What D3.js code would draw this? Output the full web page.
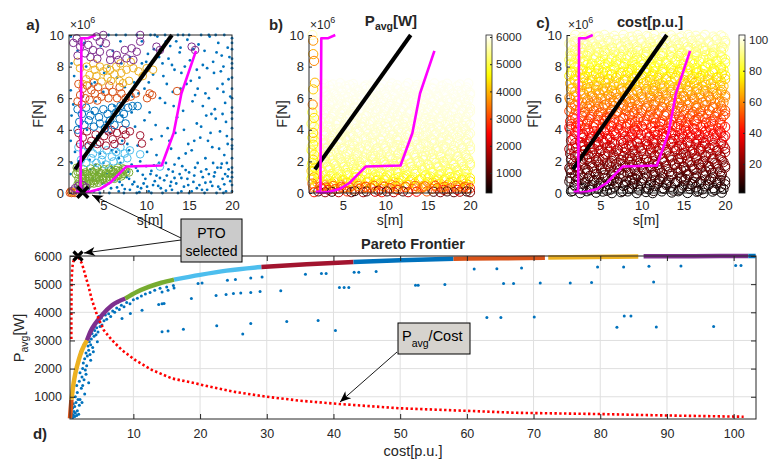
<!DOCTYPE html>
<html>
<head>
<meta charset="utf-8">
<script src="https://cdn.jsdelivr.net/npm/d3@7/dist/d3.min.js"></script>
<style>
body{margin:0;background:#fff;}
svg{display:block;}
</style>
</head>
<body>
<svg id="chart" width="771" height="459"></svg>
<script>
// ======================= DATA =======================
const sTicks = [5, 10, 15, 20];
const FTicks = [0, 2, 4, 6, 8, 10];
const cbPowerTicks = [1000, 2000, 3000, 4000, 5000, 6000];
const cbCostTicks = [20, 40, 60, 80, 100];
const costTicks = [10, 20, 30, 40, 50, 60, 70, 80, 90, 100];
const powerTicks = [1000, 2000, 3000, 4000, 5000, 6000];
const matlabColors = ["#0072BD", "#D95319", "#EDB120", "#7E2F8E", "#77AC30", "#4DBEEE", "#A2142F"];

// design-space lines (s [m], F [MN])
const blackLineS = [1.7, 13.0], blackLineF = [1.5, 10.0];
const magUpperS = [4.1, 3.2, 2.45, 2.35, 2.2], magUpperF = [10, 9.79, 9.79, 0.2, 0.08];
const magLowerS = [1.8, 2.5, 3.5, 4.6, 5.8, 6.8, 7.7, 11.8, 13.2, 14.1, 15.8];
const magLowerF = [0.1, 0.02, 0.1, 0.25, 0.65, 1.2, 1.68, 1.74, 3.8, 6.3, 9.0];
const ptoS = 2.6, ptoF = 0.05;

// panel a: all designs (blue dots) [s,F]
const aDots = [
[9.5,9.6],[10.2,8.8],[10.8,7.5],[11.3,9.9],[11.9,8.2],[12.4,6.9],[12.8,9.3],[13.3,7.8],[13.9,8.9],[14.3,5.2],[14.8,9.7],[15.2,7.1],[15.7,6.2],[16.1,9.4],[16.6,8.1],[17.0,4.9],[17.4,9.9],[17.9,7.6],[18.3,6.6],[18.8,8.7],[19.2,5.7],[19.5,9.2],[16.3,3.5],[17.7,2.9],[18.6,3.9],[19.1,2.4],[15.9,4.4],[14.9,3.1],[13.6,4.8],[12.2,5.7],[11.1,4.3],[10.4,5.1],[9.8,6.6],[10.6,3.4],[12.9,2.8],[13.8,2.2],[14.6,2.5],[16.9,2.2],[18.1,4.7],[19.4,3.6],[17.3,6.0],[18.9,6.9],[16.2,7.3],[15.1,8.4],[14.1,7.6],[13.1,6.4],[12.0,7.4],[11.6,6.0],[10.9,9.1],[12.6,8.5],[13.5,9.6],[14.5,8.0],[15.5,9.1],[16.8,9.0],[17.8,8.3],[18.4,9.5],[19.0,8.0],[19.6,7.2],[18.0,5.3],[16.6,5.5],[15.4,5.8],[14.0,6.6],[19.3,4.5],[17.5,3.8],[11.8,3.6],[10.1,2.6],[12.5,4.1],[13.2,5.5],[14.4,4.0],[15.6,3.3],[18.5,2.8],[16.0,6.6],[17.1,7.9],[18.7,7.7],[19.8,6.1],[19.7,8.6],
[10.3,7.0],[11.5,8.6],[13.0,8.1],[14.7,6.9],[16.9,6.3],[18.2,8.9],[19.0,6.4],[17.6,5.0],[16.4,4.2],[12.7,3.3],[11.2,2.4],[15.3,2.7],[17.2,3.3],[18.9,5.0],[14.0,9.2],[10.0,8.3],[12.3,9.6],[15.9,7.8],[13.4,3.8],[19.5,3.1],
[15.0,10],[12.2,10],[16.4,10],[18.1,10],[19.1,10],[13.7,10],[10.5,10],[17.3,10],[14.3,10],[11.0,10],[8.9,10],[6.5,10],[7.6,10],[5.6,10],
[20,9.8],[20,9.1],[20,8.5],[20,7.9],[20,7.3],[20,6.6],[20,6.0],[20,5.4],[20,4.7],[20,4.1],[20,3.4],[20,2.8],[20,2.2],[20,1.6],[20,1.0],[20,0.5],[20,0.1],[20,9.5],[20,8.2],[20,5.1],[20,3.0],[20,1.3],
[3.2,0.4],[3.8,0.9],[4.4,0.2],[4.9,0.6],[5.4,1.2],[5.9,0.3],[6.3,0.8],[6.8,0.1],[7.2,0.5],[7.7,1.0],[8.1,0.2],[8.6,0.7],[9.0,1.4],[9.4,0.3],[9.9,0.9],[10.3,0.1],[10.8,0.5],[11.2,1.1],[11.7,0.3],[12.1,0.8],[12.6,1.5],[13.0,0.2],[13.5,0.6],[13.9,1.2],[14.4,0.4],[14.8,0.9],[15.3,0.1],[15.7,1.6],[16.2,0.5],[16.6,1.0],[17.1,0.2],[17.5,0.7],[18.0,1.3],[18.4,0.4],[18.9,0.9],[19.3,0.1],[19.6,1.5],[3.5,1.5],[4.1,1.8],[5.0,1.9],[6.0,1.6],[7.0,1.9],[8.3,1.8],[9.3,2.0],[10.0,1.7],[10.6,1.4],[11.5,1.9],[12.3,1.9],[13.3,1.8],[14.2,1.7],[15.0,1.3],[16.0,1.9],[17.0,1.5],[17.8,1.9],[18.7,1.6],[19.4,1.9],
[4.6,0.0],[5.7,0.0],[7.4,0.0],[8.9,0.0],[10.6,0.0],[11.9,0.0],[13.7,0.0],[15.0,0.0],[16.8,0.0],[18.2,0.0],[19.0,0.0],[5.2,0.45],[6.6,0.35],[8.4,0.55],[9.7,0.6],[11.0,0.75],[12.8,0.45],[14.1,0.95],[15.5,0.7],[16.9,0.65],[18.6,0.25],[19.8,0.75],[7.9,1.35],[9.6,1.15],[12.4,1.1],[14.6,1.45],[16.4,1.35],[17.9,1.05],[19.2,1.2],[10.9,1.75],[13.1,1.35],[6.1,1.15],[4.3,1.3],[3.9,0.1],[8.8,1.6],[11.4,0.45],[15.9,0.3],[17.3,1.2],[18.8,1.85],
[5.6,0.6],[7.5,0.25],[8.0,0.9],[9.2,0.05],[10.1,0.4],[11.6,0.95],[12.3,0.15],[13.3,0.95],[14.1,0.1],[14.9,0.5],[15.6,1.1],[16.5,0.2],[17.7,0.45],[18.3,1.6],[19.1,0.55],[19.5,1.05],[12.9,0.7],[10.5,1.2],[9.0,0.4],[6.9,0.7],
[6.5,2.6],[7.2,3.3],[8.0,2.7],[8.7,4.2],[9.0,3.0],[8.3,5.1],[9.1,6.3],[8.6,7.0],[9.5,8.2],[9.8,4.6],
[1.2,9.9],[1.3,8.2],[1.2,6.5],[1.3,4.9],[1.2,3.3],[1.3,1.9],[1.2,1.2],[1.6,7.4],[1.5,5.6],[1.7,2.6],[2.0,9.0],[2.2,4.2],[2.6,6.1],[3.0,8.0],[3.4,2.1],[3.7,5.1],[4.0,7.0],[4.3,3.6],[4.7,9.3],[5.0,6.4],[5.3,4.5],[5.6,8.0],[6.0,2.7],[6.3,5.5],[6.6,7.3],[7.0,9.6],[7.2,4.9],[7.5,6.7],[7.8,3.1],[8.1,8.6],[8.4,6.1],[2.4,3.0],[3.1,4.0],[4.1,5.8],[5.1,7.6],[6.1,9.0],[7.1,8.2],[2.8,9.5],[3.6,6.9],[4.6,2.5],[5.8,3.8],[6.8,2.2],[1.9,0.4],[2.5,1.3],[2.9,0.7],[1.4,0.2],[3.3,0.3],[2.1,2.0]
];

// panel a: Pareto designs grouped by cluster [s,F]
const aCircPurple = [[1.9,9.79],[2.48,9.58],[3.25,9.37],[4.2,9.9],[4.6,9.58],[5.3,9.47],[3.8,9.05],[4.6,8.94],[2.86,8.84],[5.8,8.84],[6.56,8.73],[7.5,9.05],[8.3,9.16],[8.9,8.94],[7.7,8.52],[8.5,8.42],[9.3,10],[9.3,9.58],[11.2,9.26],[11.6,9.05],[15.3,9.26],[15.7,9.05],[5.0,10],[2.3,9.26],[5.8,8.42],[6.75,8.42],[1.5,9.5],[2.0,8.7],[3.5,8.6],[4.3,8.5]];
const aCircYellow = [[2.28,7.9],[3.06,8.0],[3.83,8.2],[4.6,8.0],[5.4,7.9],[3.4,7.47],[4.2,7.4],[5.0,7.7],[5.8,7.8],[6.5,8.0],[7.0,8.2],[6.3,7.5],[7.1,7.6],[7.7,7.8],[8.5,7.9],[9.1,7.7],[10.05,7.9],[4.8,7.05],[5.9,7.1],[6.9,7.1],[8.0,7.1],[2.6,6.9],[9.6,7.4],[10.8,7.8],[2.0,8.3],[3.0,7.2],[4.0,7.8],[8.2,8.3],[7.3,6.95],[5.5,7.3]];
const aCircOrange = [[2.1,6.9],[2.6,6.6],[3.1,6.8],[3.6,6.5],[2.3,6.2],[2.9,6.0],[3.4,5.9],[4.0,6.3],[4.4,6.7],[4.8,6.1],[5.2,6.4],[2.0,5.8],[4.3,5.85],[5.6,6.0],[6.1,6.4],[6.6,6.0],[7.1,6.3],[7.6,6.0],[8.2,6.1],[6.9,6.7],[5.7,6.8],[3.9,7.0],[10.1,6.0],[10.7,6.2],[10.4,6.3],[13.6,6.45],[8.8,6.3],[2.5,5.6]];
const aCircBlue = [[2.0,5.3],[2.5,5.0],[3.0,5.4],[3.5,4.9],[4.0,5.2],[4.5,4.8],[5.0,5.3],[5.5,5.0],[6.0,5.4],[6.5,5.1],[7.0,5.5],[2.2,4.5],[2.8,4.3],[3.3,4.6],[3.9,4.2],[4.6,4.4],[5.2,4.1],[5.8,4.6],[6.3,4.3],[6.9,4.7],[7.4,5.0],[7.9,5.4],[8.4,5.5],[9.0,5.5],[2.0,4.0],[7.6,4.4]];
const aCircDarkRed = [[2.1,3.8],[2.6,3.5],[3.1,3.9],[3.6,3.3],[4.1,3.7],[4.6,3.2],[5.1,3.6],[5.6,3.9],[6.1,3.4],[6.6,3.8],[7.1,3.3],[7.6,3.7],[8.1,3.9],[2.3,3.1],[3.3,3.0],[4.3,3.1],[5.3,3.0],[6.3,3.1],[9.3,3.65],[9.5,3.13],[7.3,4.0],[5.9,4.0]];
const aCircLightBlue = [[2.1,2.9],[2.7,2.6],[3.2,2.9],[3.8,2.5],[4.3,2.8],[4.9,2.4],[5.4,2.7],[6.0,2.3],[6.5,2.6],[7.0,2.9],[7.5,2.5],[2.4,2.1],[3.0,1.9],[3.6,2.2],[4.2,1.9],[4.8,2.1],[5.3,1.8],[6.2,2.0],[7.0,2.1],[7.8,2.2],[9.3,2.45],[11.6,1.67],[8.1,2.7]];
const aCircGreen = [[1.9,1.6],[2.3,1.3],[2.7,1.5],[3.1,1.2],[3.5,1.55],[3.9,1.3],[4.3,1.6],[4.7,1.25],[5.1,1.5],[5.5,1.2],[5.9,1.45],[6.3,1.3],[6.7,1.6],[7.1,1.35],[7.5,1.5],[2.1,0.9],[2.5,0.7],[2.9,0.95],[3.3,0.75],[3.7,1.0],[4.1,0.8],[4.5,1.0],[4.9,0.85],[5.3,0.95],[5.7,0.85],[6.1,1.0],[6.5,1.05],[6.9,1.15],[7.3,1.2],[2.3,0.5],[2.7,1.2],[3.1,0.55],[3.5,0.6],[1.8,1.2],[4.0,1.1],[5.0,1.05],[6.0,1.2],[8.0,1.3],
[2.0,1.35],[2.5,1.05],[2.9,1.3],[3.3,1.05],[3.7,1.35],[4.1,1.45],[4.5,1.3],[4.9,1.4],[5.3,1.25],[5.7,1.55],[6.1,1.35],[6.5,1.45],[6.9,1.4],[7.3,1.55],[7.7,1.35],[2.2,0.7],[2.6,0.9],[3.0,0.75],[3.4,0.9],[3.8,0.75],[4.2,0.95],[4.6,0.8],[5.0,0.9],[5.4,0.8],[5.8,1.0],[6.3,0.9],[6.7,1.1],[7.1,1.05],[2.0,0.55],[2.8,0.5],[3.9,0.6],[4.4,0.65]];
const aCircPurpleLow = [[1.7,0.3],[2.1,0.45],[1.5,0.15],[2.6,0.5],[2.3,0.2],[3.0,0.35]];
const aCircOrangeLow = [[1.1,0.02],[1.3,0.0],[1.5,0.05],[1.2,0.1],[1.7,0.0]];
const aCircYellowLow = [[1.4,0.08]];

// shared scatter row layouts for the dense clouds of panels b and c: [s, dF]
const cloudRows = [
 [[1.5,0.05],[2.6,-0.06],[3.4,0.07],[4.5,-0.02],[5.3,0.05],[6.4,-0.07],[7.5,0.01],[8.3,0.06],[9.4,-0.05],[10.5,0.02],[11.3,-0.07],[12.4,0.06],[13.6,-0.01],[14.4,0.07],[15.5,-0.04],[16.6,0.04],[17.4,-0.06],[18.5,0.05],[19.6,-0.02]],
 [[1.9,-0.04],[3.0,0.06],[4.0,-0.07],[4.9,0.04],[6.0,-0.01],[6.9,0.07],[8.0,-0.05],[8.9,0.02],[9.9,0.07],[11.0,-0.06],[11.9,0.04],[12.9,-0.02],[14.0,0.06],[15.0,-0.07],[16.0,0.01],[16.9,0.06],[18.0,-0.04],[19.0,0.07],[20.0,-0.01]],
 [[1.4,0.06],[2.3,-0.02],[3.5,0.04],[4.3,-0.06],[5.6,0.07],[6.6,-0.04],[7.3,0.05],[8.6,-0.07],[9.2,0.01],[10.2,0.06],[11.6,-0.05],[12.2,0.02],[13.3,-0.07],[14.7,0.05],[15.3,-0.01],[16.3,0.07],[17.7,-0.04],[18.3,0.04],[19.4,-0.06]],
 [[1.7,-0.06],[2.8,0.04],[3.8,-0.01],[4.7,0.07],[5.8,-0.05],[6.2,0.02],[7.7,-0.07],[8.5,0.06],[9.7,-0.02],[10.8,0.05],[11.4,-0.06],[12.7,0.07],[13.8,-0.04],[14.5,0.01],[15.8,0.06],[16.8,-0.07],[17.3,0.04],[18.8,-0.01],[19.8,0.06]],
 [[1.3,0.01],[2.1,0.07],[3.2,-0.05],[4.2,0.02],[5.1,-0.07],[6.3,0.06],[7.1,-0.02],[8.1,0.04],[9.1,-0.06],[10.0,0.07],[11.1,-0.01],[12.1,0.05],[13.0,-0.07],[14.2,0.02],[15.1,0.06],[16.2,-0.05],[17.1,0.01],[18.1,0.07],[19.2,-0.06],[20.0,0.04]],
 [[2.0,0.05],[2.9,-0.07],[3.7,0.02],[4.8,-0.04],[5.5,0.06],[6.7,-0.01],[7.8,0.07],[8.8,-0.06],[9.5,0.04],[10.6,-0.02],[11.5,0.06],[12.5,-0.07],[13.5,0.02],[14.8,-0.05],[15.6,0.07],[16.5,-0.01],[17.6,0.05],[18.6,-0.06],[19.5,0.01]]
];

// panel b: rows of designs coloured by P_avg [W]
const bRowF = [0.3,0.45,0.6,0.75,0.9,1.05,1.2,1.38,1.55,1.72,1.9,2.07,2.24,2.4,2.58,2.75,2.92,3.1,3.27,3.44,3.6,3.78,3.95,4.12,4.3,4.47,4.64,4.8,4.98,5.15,5.32,5.5,5.67,5.84,6.0,6.18,6.35,6.52,6.7,6.88];
const bRowP = [3400,3800,4100,4350,4550,4750,4900,5050,5150,5230,5300,5370,5430,5480,5530,5570,5610,5640,5670,5700,5725,5750,5770,5790,5810,5830,5845,5860,5875,5890,5900,5915,5925,5935,5945,5955,5965,5975,5980,5990];
const bRowLayout = [0,3,5,1,4,2,5,0,2,4,1,3,0,5,2,1,4,3,5,0,3,1,5,2,4,0,2,5,3,1,4,0,5,3,2,4,1,5,0,3];
const bBottom = [[1.6,0.05,2600],[2.1,0.1,900],[2.5,0.3,3000],[2.9,0.05,1500],[3.3,0.2,2400],[3.7,0.08,600],[4.1,0.25,3200],[4.5,0.05,1900],[5.0,0.3,3300],[5.5,0.1,2800],[6.0,0.05,1200],[6.4,0.12,500],[7.0,0.28,2900],[7.4,0.05,1700],[7.8,0.1,700],[8.3,0.3,3400],[8.8,0.08,2200],[9.2,0.15,1000],[9.6,0.05,2600],[10.2,0.1,600],[10.6,0.3,3100],[11.0,0.05,1800],[11.5,0.2,2700],[12.1,0.1,800],[12.7,0.05,2000],[13.2,0.25,3300],[13.7,0.08,2500],[14.3,0.3,3600],[14.9,0.1,3200],[15.7,0.08,900],[16.1,0.3,3000],[16.5,0.05,1400],[16.9,0.2,2600],[17.3,0.1,700],[17.7,0.3,3200],[18.1,0.05,1100],[18.5,0.2,2400],[18.8,0.08,1800],[19.2,0.3,3300],[19.6,0.1,600],[20.0,0.05,1300],[20.0,0.3,2800],
[2.3,0.4,3200],[3.0,0.35,2900],[3.9,0.45,3400],[4.8,0.4,3100],[5.8,0.35,3300],[6.8,0.45,3500],[7.7,0.4,3000],[8.7,0.45,3400],[9.9,0.4,3100],[11.2,0.45,3500],[12.4,0.4,3300],[13.5,0.45,3200],[14.7,0.42,3400],[15.9,0.45,3100],[17.0,0.4,3300],[18.3,0.45,3500],[19.4,0.4,3200]];
const bLeftColumn = [[1.4,0.6,3300],[1.6,1.0,3800],[1.3,1.4,4200],[1.7,1.6,4700],[1.5,2.1,4300],[1.3,2.7,4800],[1.7,3.3,5000],[1.4,3.5,4600],[1.6,4.2,4900],[1.3,4.4,5100],[1.4,5.1,4700],
[1.5,9.64,3700],[1.5,8.79,3900],[1.6,8.36,3600],[1.7,6.98,4000],[1.5,6.56,4200],[1.44,5.6,3500],[1.6,4.75,4300],[1.5,3.8,4100],[1.5,3.06,4400],[1.6,2.42,4500],[1.4,1.9,4600],[1.4,10.0,5700]];

// panel c: rows of designs coloured by cost [p.u.]
const cRowF = [0.05,0.2,0.38,0.55,0.72,0.88,1.05,1.22,1.4,1.57,1.74,1.9,2.08,2.25,2.42,2.6,2.77,2.94,3.1,3.28,3.45,3.62,3.8,3.97,4.14,4.3,4.48,4.65,4.82,5.0,5.17,5.34,5.5,5.68,5.85,6.02,6.2,6.37,6.54,6.7,6.88,7.05,7.22,7.4,7.57,7.74,7.9,8.08,8.25,8.42,8.6,8.77,8.94,9.1,9.28,9.45,9.62,9.8,9.95];
const cRowCost = [2,5,4,8,7,12,10,15,13,19,16,22,19,25,22,28,26,32,29,35,33,39,36,42,40,45,43,49,46,53,49,56,53,59,56,62,59,66,62,69,66,72,69,76,72,79,76,82,79,86,82,89,85,91,89,94,92,97,96];
const cRowLayout = [0,3,5,1,4,2,5,0,2,4,1,3,0,5,2,1,4,3,5,0,3,1,5,2,4,0,2,5,3,1,4,0,5,3,2,4,1,5,0,3,2,5,1,4,0,3,5,2,1,4,0,2,5,3,0,4,1,3,5];

// panel d: all designs [cost, P_avg]
const dDots = [
[0.7,300],[0.8,400],[0.9,260],[1.0,350],[1.1,480],[1.2,300],[1.3,420],[1.5,330],[1.6,500],[1.8,380],[0.9,600],[1.0,750],[1.2,650],[1.4,800],[1.9,700],[2.0,900],[1.3,1000],[1.6,1150],[2.2,1300],[1.5,1400],[1.9,1550],[2.3,1700],[2.0,1850],[2.6,1600],[2.4,2000],[2.8,1950],[2.5,2200],[3.0,2100],[2.7,2350],[3.1,2450],[2.9,2550],[3.3,2650],[3.5,2500],[3.2,2800],[3.6,2850],[3.4,2950],[3.9,2750],[3.7,3050],[4.1,3150],[3.8,3250],[4.4,3200],[4.2,3350],[4.7,3300],[4.5,3450],[5.0,3500],[4.9,3650],[5.3,3550],[5.6,3700],[5.2,3800],[6.0,3750],[5.8,3900],[6.3,3950],[6.6,3850],[6.9,4050],[7.2,4000],[7.5,4150],[7.9,4100],[8.2,4250],[8.6,4200],[9.0,4350],[9.5,4300],[10.0,4450],[10.6,4500],[11.2,4580],[11.8,4650],[12.5,4700],[13.2,4780],[14.0,4850],[15.0,4900],[16.0,4950],[3.3,1500],[2.7,1100],[2.3,800],
[2.1,2600],[2.6,2850],[3.0,3000],[3.4,3200],[3.9,3450],[4.3,3600],[4.8,3850],[5.4,3950],[6.1,4100],[6.8,4250],[7.6,4350],[8.4,4450],[9.2,4550],[2.9,1800],[3.6,2300],[4.0,2600],[4.6,2950],[1.7,900],[2.4,1400],
[11.3,4075],[9.55,3957],[8.3,3780],[14.3,3305],[15.2,3340],[17.5,3400],[13.8,4275],[14.3,4300],[14.6,4310],[18.7,4490],[14.3,4725],[15.2,4785],[16.1,4865],[19.7,5020],[20.3,5045],
[22.4,4595],[23.9,4630],[25,4665],[26.1,4690],[27.6,4700],[29,4740],[32.1,4770],[24.1,5140],[25.3,5165],[27.6,5220],[29.3,5255],[35.8,5350],[38.2,5375],[38.9,5375],[43.1,5420],[43.8,5420],[46.4,5445],[40.9,4880],[41.6,4880],[42.3,4880],[22.5,3520],[26.4,3225],[27.6,3600],[33,3670],[37.7,3710],[40.3,3355],[52.3,4960],[52.7,4960],[56.7,4985],[61.1,5540],[64.5,5550],[65.5,5020],[67,5020],[63,3815],[65.1,3815],[68.2,5575],[71,5045],[75.5,5045],[78.7,5055],[79.6,5610],[83.5,5610],[87.3,5635],[92.1,5645],[100.3,5660],[101.1,5660],[88,5080],[70.1,3835],[82.5,3470],[83.6,3870],[84.6,3870],[88.4,3480],[97,3500]
];
// Pareto frontier, coloured by cluster
const segCost = [[0.5,0.6,0.72],[0.72,0.9,1.05,1.3,1.8,2.3,3.06],[3.06,3.6,4.3,5.3,6.8,8.8],[8.8,10.5,12.3,14.2,16.1],[16.1,20,24,29.2],[29.2,36,43],[43,50,58],[58,65,71.7],[72.2,79,85.7],[86.5,94,102.2],[102.2,103.3]];
const segPower = [[230,550,900],[900,1250,1500,1830,2300,2655,3010],[3010,3330,3600,3900,4250,4490],[4490,4720,4900,5050,5160],[5160,5330,5480,5610],[5610,5710,5785],[5785,5850,5905],[5905,5920,5935],[5945,5965,5985],[5988,5995,6000],[6000,6000]];
const segColorIdx = [1,2,3,4,5,6,0,1,2,3,0];
// P_avg / cost curve (scaled)
const ratioCost = [0.7,0.7,0.72,0.75,0.85,1.0,1.2,1.7,1.9,2.3,2.8,3.3,3.8,4.56,5.56,6.8,8.3,10.3,12.8,15.8,19.3,21.5,25,30,35,41,50,60,67.5,80,90,101.5];
const ratioPower = [3050,3800,4600,5200,5600,5800,5920,6000,5900,5730,5315,4900,4430,3900,3365,3010,2655,2300,1950,1650,1475,1355,1180,1000,860,740,590,500,430,385,335,290];
const ptoCost = 1.7, ptoPower = 6000;

// ======================= DRAWING =======================
const FONT = "'Liberation Sans', Arial, Helvetica, sans-serif";
const TXT = "#262626";
const fmt = d3.format("d");
const svg = d3.select("#chart");
const defs = svg.append("defs");

function hot(t){
  t = Math.max(0, Math.min(1, t));
  const r = Math.min(1, t/0.375), g = Math.max(0, Math.min(1, (t-0.375)/0.375)), b = Math.max(0, Math.min(1, (t-0.75)/0.25));
  return d3.rgb(r*255, g*255, b*255).toString();
}
function styleAxis(sel, fs){
  sel.attr("font-family", FONT).attr("font-size", fs);
  sel.selectAll("text").attr("fill", TXT);
  sel.selectAll("line").attr("stroke", TXT);
  sel.select(".domain").remove();
}
function text(x, y, str, opts={}){
  const t = svg.append("text").attr("x", x).attr("y", y).text(str)
    .attr("font-family", FONT).attr("font-size", opts.fs || 13).attr("fill", opts.fill || TXT)
    .attr("text-anchor", opts.anchor || "middle");
  if (opts.bold) t.attr("font-weight", "bold");
  return t;
}

// ---------- top panels ----------
const topY0 = 193, topY1 = 35;
function topPanel(x0, x1){
  return {
    x: d3.scaleLinear().domain([1, 20]).range([x0, x1]),
    y: d3.scaleLinear().domain([0, 10]).range([topY0, topY1]),
    x0, x1
  };
}
const A = topPanel(69, 232), B = topPanel(309, 470), C = topPanel(567, 725);

function drawLines(P){
  const line = d3.line().x(d => P.x(d[0])).y(d => P.y(d[1]));
  const g = svg.append("g");
  g.append("path").attr("d", line(blackLineS.map((s,i)=>[s, blackLineF[i]])))
    .attr("stroke", "#000").attr("stroke-width", 4).attr("fill", "none");
  g.append("path").attr("d", line(magUpperS.map((s,i)=>[s, magUpperF[i]])))
    .attr("stroke", "#FF00FF").attr("stroke-width", 2.6).attr("fill", "none").attr("stroke-linejoin","round");
  g.append("path").attr("d", line(magLowerS.map((s,i)=>[s, magLowerF[i]])))
    .attr("stroke", "#FF00FF").attr("stroke-width", 2.6).attr("fill", "none").attr("stroke-linejoin","round");
}
function drawTopAxes(P, boxed, lblX, lblY){
  const gx = svg.append("g").attr("transform", `translate(0,${topY0})`)
    .call(d3.axisBottom(P.x).tickValues(sTicks).tickFormat(fmt).tickSizeInner(-3).tickSizeOuter(0).tickPadding(8));
  styleAxis(gx, 13);
  const gy = svg.append("g").attr("transform", `translate(${P.x0},0)`)
    .call(d3.axisLeft(P.y).tickValues(FTicks).tickFormat(fmt).tickSizeInner(-3).tickSizeOuter(0).tickPadding(5));
  styleAxis(gy, 13);
  const fr = svg.append("g").attr("stroke", TXT).attr("stroke-width", 1).attr("fill", "none");
  if (boxed){
    fr.append("rect").attr("x", P.x0).attr("y", topY1).attr("width", P.x1 - P.x0).attr("height", topY0 - topY1);
  } else {
    fr.append("path").attr("d", `M${P.x0},${topY1}V${topY0}H${P.x1}`);
  }
  const ex = svg.append("text").attr("x", P.x0 + 1).attr("y", 29).attr("font-family", FONT).attr("font-size", 12).attr("fill", TXT);
  ex.append("tspan").text("\u00d710");
  ex.append("tspan").attr("dy", -6).attr("font-size", 9).text("6");
  text(lblX, 225, "s[m]", {fs: 14});
  svg.append("text").attr("transform", `translate(${lblY},114) rotate(-90)`).attr("text-anchor", "middle")
    .attr("font-family", FONT).attr("font-size", 14.5).attr("fill", TXT).text("F[N]");
}

// panel a
{
  svg.append("g").selectAll("circle").data(aDots).join("circle")
    .attr("cx", d => A.x(d[0])).attr("cy", d => A.y(d[1])).attr("r", 1.4).attr("fill", "#0072BD");
  const groups = [
    [aCircOrangeLow, 1], [aCircYellowLow, 2], [aCircGreen, 4], [aCircPurpleLow, 3], [aCircLightBlue, 5],
    [aCircDarkRed, 6], [aCircBlue, 0], [aCircOrange, 1], [aCircYellow, 2], [aCircPurple, 3]
  ];
  groups.forEach(([arr, ci]) => {
    svg.append("g").selectAll("circle").data(arr).join("circle")
      .attr("cx", d => A.x(d[0])).attr("cy", d => A.y(d[1])).attr("r", 3.8)
      .attr("fill", "none").attr("stroke", matlabColors[ci]).attr("stroke-width", 1);
  });
  drawLines(A);
  const cx = A.x(ptoS), cy = A.y(ptoF), h = 5.5;
  svg.append("path").attr("d", `M${cx-h},${cy-h}L${cx+h},${cy+h}M${cx-h},${cy+h}L${cx+h},${cy-h}`)
    .attr("stroke", "#000").attr("stroke-width", 3.5);
  drawTopAxes(A, true, 150, 43);
  text(33, 30, "a)", {fs: 15, bold: true});
}

// panel b
const powerScale = d3.scaleLinear().domain([265, 6073]).range([0, 1]);
{
  const g = svg.append("g");
  bRowF.forEach((F, i) => {
    const col = hot(powerScale(bRowP[i]));
    g.append("g").selectAll("circle").data(cloudRows[bRowLayout[i]]).join("circle")
      .attr("cx", d => B.x(d[0])).attr("cy", d => B.y(F + d[1])).attr("r", 4.6)
      .attr("fill", "none").attr("stroke", col).attr("stroke-width", 1);
  });
  g.append("g").selectAll("circle").data(bBottom).join("circle")
    .attr("cx", d => B.x(d[0])).attr("cy", d => B.y(d[1])).attr("r", 4.6)
    .attr("fill", "none").attr("stroke", d => hot(powerScale(d[2]))).attr("stroke-width", 1);
  g.append("g").selectAll("circle").data(bLeftColumn).join("circle")
    .attr("cx", d => B.x(d[0])).attr("cy", d => B.y(d[1])).attr("r", 4.6)
    .attr("fill", "none").attr("stroke", d => hot(powerScale(d[2]))).attr("stroke-width", 1);
  drawLines(B);
  drawTopAxes(B, false, 390, 287);
  text(276, 30, "b)", {fs: 15, bold: true});
  const t = svg.append("text").attr("x", 391).attr("y", 26).attr("text-anchor", "middle")
    .attr("font-family", FONT).attr("font-weight", "bold").attr("font-size", 15).attr("fill", TXT);
  t.append("tspan").text("P");
  t.append("tspan").attr("dy", 4).attr("font-size", 10.5).text("avg");
  t.append("tspan").attr("dy", -4).text("[W]");
}

// panel c
const costScale = d3.scaleLinear().domain([1.3, 103]).range([0, 1]);
{
  const g = svg.append("g");
  cRowF.forEach((F, i) => {
    const col = hot(costScale(cRowCost[i]));
    g.append("g").selectAll("circle").data(cloudRows[cRowLayout[i]]).join("circle")
      .attr("cx", d => C.x(d[0])).attr("cy", d => C.y(Math.max(0, Math.min(10, F + d[1])))).attr("r", 4.8)
      .attr("fill", "none").attr("stroke", col).attr("stroke-width", 1);
  });
  drawLines(C);
  drawTopAxes(C, false, 646, 538);
  text(543, 28, "c)", {fs: 15, bold: true});
  text(650, 27, "cost[p.u.]", {fs: 14.7, bold: true});
}

// colorbars
function colorbar(id, x, domain, ticks){
  const grad = defs.append("linearGradient").attr("id", id).attr("x1", 0).attr("y1", 1).attr("x2", 0).attr("y2", 0);
  d3.range(0, 1.0001, 0.02).forEach(t => grad.append("stop").attr("offset", t).attr("stop-color", hot(t)));
  svg.append("rect").attr("x", x).attr("y", topY1).attr("width", 6).attr("height", topY0 - topY1)
    .attr("fill", `url(#${id})`).attr("stroke", TXT).attr("stroke-width", 0.8);
  const s = d3.scaleLinear().domain(domain).range([topY0, topY1]);
  const ga = svg.append("g").attr("transform", `translate(${x + 6},0)`)
    .call(d3.axisRight(s).tickValues(ticks).tickFormat(fmt).tickSizeInner(-2).tickSizeOuter(0).tickPadding(4));
  styleAxis(ga, 11.5);
}
colorbar("cbP", 486, [265, 6073], cbPowerTicks);
colorbar("cbC", 739, [1.3, 103], cbCostTicks);

// ---------- bottom panel d ----------
const D = {
  x: d3.scaleLinear().domain([0.5, 103.35]).range([70, 756]),
  y: d3.scaleLinear().domain([210, 6000]).range([419, 256])
};
{
  const g = svg.append("g");
  costTicks.forEach(c => g.append("line").attr("x1", D.x(c)).attr("x2", D.x(c)).attr("y1", 256).attr("y2", 419)
    .attr("stroke", "#dfdfdf").attr("stroke-width", 1));
  powerTicks.forEach(p => g.append("line").attr("x1", 70).attr("x2", 756).attr("y1", D.y(p)).attr("y2", D.y(p))
    .attr("stroke", "#dfdfdf").attr("stroke-width", 1));
  g.append("g").selectAll("circle").data(dDots).join("circle")
    .attr("cx", d => D.x(d[0])).attr("cy", d => D.y(d[1])).attr("r", 1.5).attr("fill", "#0072BD");
  const line = d3.line().x(d => D.x(d[0])).y(d => D.y(d[1])).curve(d3.curveMonotoneX);
  segCost.forEach((cs, i) => {
    g.append("path").attr("d", line(cs.map((c, j) => [c, segPower[i][j]])))
      .attr("stroke", matlabColors[segColorIdx[i]]).attr("stroke-width", 4.5).attr("fill", "none");
  });
  const lin = d3.line().x(d => D.x(d[0])).y(d => D.y(d[1])).curve(d3.curveLinear);
  g.append("path").attr("d", lin(ratioCost.map((c, j) => [c, ratioPower[j]])))
    .attr("stroke", "#FF0000").attr("stroke-width", 2.6).attr("fill", "none").attr("stroke-dasharray", "2.4,2.4");
  const cx = D.x(ptoCost), cy = D.y(ptoPower), h = 4.5;
  g.append("path").attr("d", `M${cx-h},${cy-h}L${cx+h},${cy+h}M${cx-h},${cy+h}L${cx+h},${cy-h}`)
    .attr("stroke", "#000").attr("stroke-width", 3.2);
  const gx = svg.append("g").attr("transform", "translate(0,419)")
    .call(d3.axisBottom(D.x).tickValues(costTicks).tickFormat(fmt).tickSizeInner(-5).tickSizeOuter(0).tickPadding(10));
  styleAxis(gx, 12.5);
  const gxt = svg.append("g").attr("transform", "translate(0,256)")
    .call(d3.axisTop(D.x).tickValues(costTicks).tickSizeInner(-5).tickSizeOuter(0).tickFormat(""));
  styleAxis(gxt, 12.5);
  const gy = svg.append("g").attr("transform", "translate(70,0)")
    .call(d3.axisLeft(D.y).tickValues(powerTicks).tickFormat(fmt).tickSizeInner(-5).tickSizeOuter(0).tickPadding(8));
  styleAxis(gy, 12.5);
  const gyr = svg.append("g").attr("transform", "translate(756,0)")
    .call(d3.axisRight(D.y).tickValues(powerTicks).tickSizeInner(-5).tickSizeOuter(0).tickFormat(""));
  styleAxis(gyr, 12.5);
  svg.append("rect").attr("x", 70).attr("y", 256).attr("width", 686).attr("height", 163)
    .attr("fill", "none").attr("stroke", TXT).attr("stroke-width", 1);
  text(413, 249, "Pareto Frontier", {fs: 14.5, bold: true});
  text(413, 456, "cost[p.u.]", {fs: 14.5});
  text(40, 439, "d)", {fs: 15, bold: true});
  const yl = svg.append("text").attr("transform", "translate(24,338) rotate(-90)").attr("text-anchor", "middle")
    .attr("font-family", FONT).attr("font-size", 14.5).attr("fill", TXT);
  yl.append("tspan").text("P");
  yl.append("tspan").attr("dy", 4).attr("font-size", 10.5).text("avg");
  yl.append("tspan").attr("dy", -4).text("[W]");
}

// ---------- annotations ----------
defs.append("marker").attr("id", "arrow").attr("viewBox", "-12 -6 14 12").attr("refX", 0).attr("refY", 0)
  .attr("markerWidth", 14).attr("markerHeight", 12).attr("markerUnits", "userSpaceOnUse").attr("orient", "auto")
  .append("path").attr("d", "M0,0L-11,-4.5L-8,0L-11,4.5Z").attr("fill", "#000");
function arrow(x1, y1, x2, y2){
  svg.append("line").attr("x1", x1).attr("y1", y1).attr("x2", x2).attr("y2", y2)
    .attr("stroke", "#000").attr("stroke-width", 0.9).attr("marker-end", "url(#arrow)");
}
arrow(181, 240, 84, 253);
arrow(181, 238, 92, 195);
svg.append("rect").attr("x", 181).attr("y", 219).attr("width", 61).attr("height", 43)
  .attr("fill", "#cbcbcb").attr("stroke", "#000").attr("stroke-width", 1);
text(211.5, 238, "PTO", {fs: 14, fill: "#000"});
text(211.5, 256, "selected", {fs: 14, fill: "#000"});

arrow(397, 352, 340, 402);
svg.append("rect").attr("x", 398).attr("y", 323).attr("width", 72).attr("height", 31)
  .attr("fill", "#d6d3ce").attr("stroke", "#000").attr("stroke-width", 1);
{
  const t = svg.append("text").attr("x", 402).attr("y", 341).attr("font-family", FONT).attr("font-size", 14.5).attr("fill", "#000");
  t.append("tspan").text("P");
  t.append("tspan").attr("dy", 6).attr("font-size", 10.5).text("avg");
  t.append("tspan").attr("dy", -6).text("/Cost");
}
</script>
</body>
</html>
